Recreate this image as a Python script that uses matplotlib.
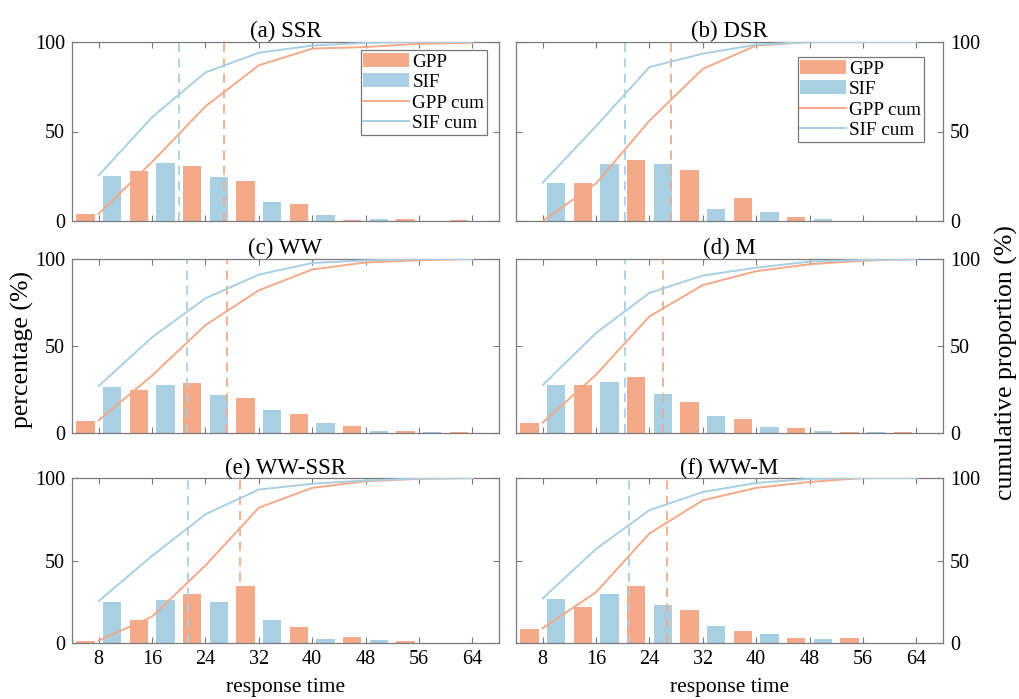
import numpy as np
import matplotlib
matplotlib.use("Agg")
import matplotlib.pyplot as plt

plt.rcParams['font.family'] = ['Liberation Serif', 'DejaVu Serif']

titles = ["(a) SSR", "(b) DSR", "(c) WW", "(d) M", "(e) WW-SSR", "(f) WW-M"]
groups = [8, 16, 24, 32, 40, 48, 56, 64]
xticks = [8, 16, 24, 32, 40, 48, 56, 64]

gpp_bars = [
    [4, 28, 30.5, 22.5, 9.5, 0.8, 1.1, 0.7],
    [0, 21, 34, 28.7, 12.8, 2, 0, 0],
    [7, 25, 28.6, 20, 11, 3.9, 1.2, 0.3],
    [6, 27.5, 32.2, 17.7, 8.2, 2.6, 0.5, 0.3],
    [1.5, 13.8, 30, 34.8, 10, 3.9, 1.4, 0.3],
    [8.7, 21.7, 34.8, 19.7, 7.4, 3.2, 2.8, 0.2],
]
sif_bars = [
    [25, 32.4, 24.8, 10.5, 3.4, 1.1, 0.2, 0.2],
    [21, 32, 32, 6.7, 4.8, 1.3, 0, 0],
    [26.4, 27.6, 21.6, 13.3, 5.8, 1.4, 0.3, 0.2],
    [27.5, 29.2, 22.7, 9.5, 3.7, 1.1, 0.3, 0.1],
    [25, 25.8, 25, 13.8, 2.6, 1.6, 0.2, 0.1],
    [26.8, 29.8, 23.1, 10.3, 5.6, 2.4, 0.2, 0.1],
]
gpp_cum = [
    [4, 33, 64, 87, 96.3, 97.2, 99, 99.6],
    [0, 21, 56, 85, 98, 100, 100, 100],
    [7.3, 33, 62, 82, 94, 98, 99.3, 100],
    [6, 33.5, 67, 85, 93, 97, 99, 100],
    [1.5, 16, 47, 82, 94, 98, 99.5, 100],
    [9, 30.8, 66.4, 86.5, 94, 97.6, 100, 100],
]
sif_cum = [
    [25.5, 58, 83, 94, 98, 99.5, 100, 100],
    [21.4, 53, 86, 93.5, 98.5, 100, 100, 100],
    [27, 55, 77.4, 91, 97.7, 99.2, 100, 100],
    [27.5, 57.5, 80.5, 90.5, 95, 98.5, 99.5, 100],
    [25.4, 52.8, 78, 93, 96.5, 98.5, 99.7, 100],
    [27, 57, 80.5, 91.5, 97, 99.5, 100, 100],
]
sif_mean = [20.1, 20.35, 21.25, 20.35, 21.35, 21.0]
gpp_mean = [26.75, 27.2, 27.25, 26.0, 29.25, 26.6]

c_gpp = "#F4AA88"
c_sif = "#A9CFE3"
c_axis = "#7a7a7a"

fig = plt.figure(figsize=(10.19, 6.99), dpi=100)
W, H = 1019, 699
lefts = [72, 516]
width = 427
rows = [(42, 221), (259, 433), (478, 643)]
legend_anchor = {0: (487, 50), 1: (924, 57)}

for i in range(6):
    r, c = divmod(i, 2)
    top, bot = rows[r]
    ax = fig.add_axes([lefts[c] / W, 1 - bot / H, width / W, (bot - top) / H])
    g = np.array(groups, dtype=float)
    b1 = ax.bar(g - 2, gpp_bars[i], width=2.75, color=c_gpp, label="GPP", zorder=2)
    b2 = ax.bar(g + 2, sif_bars[i], width=2.75, color=c_sif, label="SIF", zorder=2)
    l1, = ax.plot(groups, gpp_cum[i], color=c_gpp, lw=1.4, label="GPP cum", zorder=3)
    l2, = ax.plot(groups, sif_cum[i], color=c_sif, lw=1.4, label="SIF cum", zorder=3)
    ax.axvline(sif_mean[i], color=c_sif, ls=(0, (5, 3.5)), lw=1.3, zorder=2.5)
    ax.axvline(gpp_mean[i], color=c_gpp, ls=(0, (5, 3.5)), lw=1.3, zorder=2.5)
    ax.set_xlim(4, 68)
    ax.set_ylim(0, 100)
    ax.set_xticks(xticks)
    ax.set_yticks([0, 50, 100])
    ax.tick_params(direction="in", top=True, right=True, length=4,
                   color=c_axis, labelsize=14.5)
    ax.tick_params(axis="y", pad=5)
    ax.tick_params(axis="x", pad=5)
    for s in ax.spines.values():
        s.set_color(c_axis)
        s.set_linewidth(0.9)
    if r < 2:
        ax.set_xticklabels([])
    else:
        ax.set_xlabel("response time", fontsize=15.5)
        ax.xaxis.set_label_coords(0.5, -(697 - bot) / (bot - top))
        ax.xaxis.label.set_va("bottom")
    if c == 1:
        ax.tick_params(labelleft=False, labelright=True)
    ax.set_title(titles[i], fontsize=16.5, pad=3)
    if i in legend_anchor:
        px, py = legend_anchor[i]
        leg = ax.legend(handles=[b1, b2, l1, l2], loc="upper right",
                        bbox_to_anchor=((px - lefts[c]) / width,
                                        1 - (py - top) / (bot - top)),
                        fontsize=13.8, frameon=True, fancybox=False,
                        edgecolor="#555555", handlelength=2.4, handleheight=0.75,
                        labelspacing=0.15, borderpad=0.15, handletextpad=0.15,
                        borderaxespad=0)
        leg.get_frame().set_linewidth(0.9)

fig.text(22 / W, 1 - 350 / H, "percentage (%)", rotation=90, va="center",
         ha="center", fontsize=18.5)
fig.text(1006 / W, 1 - 363 / H, "cumulative proportion (%)", rotation=90,
         va="center", ha="center", fontsize=18.5)

fig.savefig("out.png", dpi=100)
